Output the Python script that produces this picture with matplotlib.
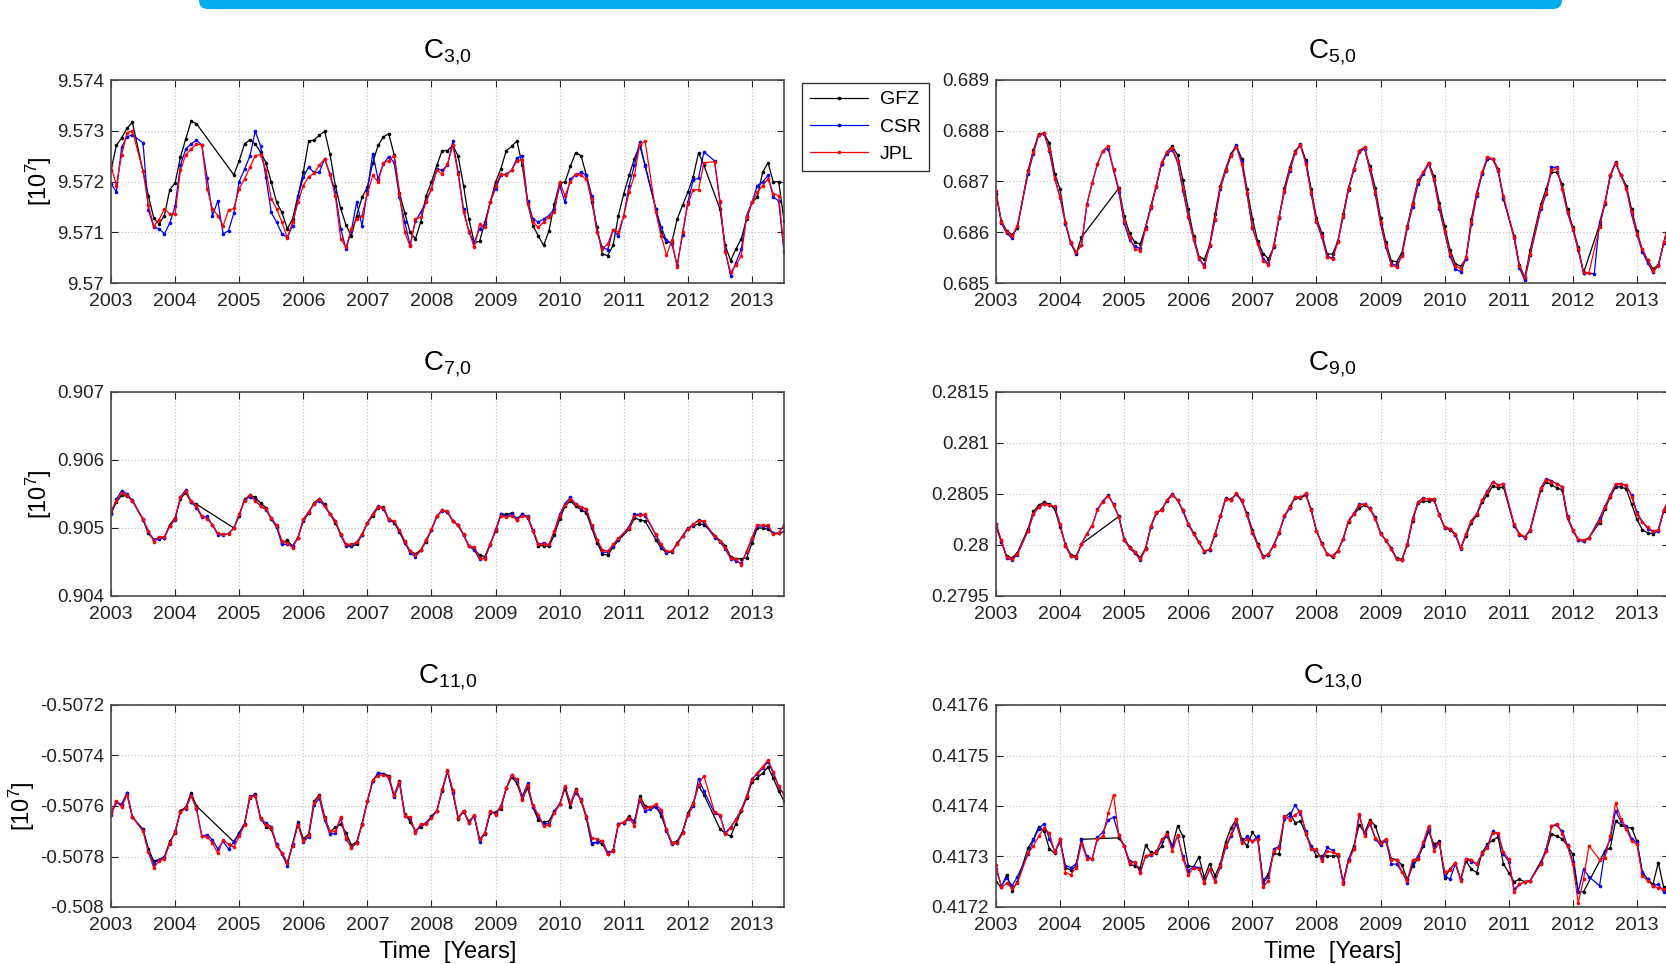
import numpy as np
import matplotlib
matplotlib.use("Agg")
import matplotlib.pyplot as plt
from matplotlib.patches import FancyBboxPatch
from matplotlib.ticker import FuncFormatter

plt.rcParams["font.family"] = ["Liberation Sans", "DejaVu Sans"]
plt.rcParams["mathtext.fontset"] = "custom"
plt.rcParams["mathtext.rm"] = "Liberation Sans"
plt.rcParams["mathtext.it"] = "Liberation Sans:italic"

nan = np.nan

# monthly values, Jan 2003 .. Jul 2013 (one row per year)
# -----------------------
# C3,0
# -----------------------
c30_gfz = [
    9.57222, 9.57271, 9.57286, 9.57305, 9.57317, nan, 9.57220, 9.57172, 9.57128, 9.57116, 9.57133, 9.57184,
    9.57197, 9.57248, 9.57284, 9.57319, 9.57314, nan, nan, nan, nan, nan, nan, 9.57213,
    9.57241, 9.57274, 9.57282, 9.57274, 9.57258, 9.57237, 9.57199, 9.57159, 9.57139, 9.57107, 9.57126, 9.57172,
    9.57218, 9.57279, 9.57282, 9.57291, 9.57299, 9.57254, 9.57192, 9.57147, 9.57114, 9.57093, 9.57133, 9.57169,
    9.57189, 9.57237, 9.57271, 9.57288, 9.57294, 9.57253, 9.57178, 9.57138, 9.57100, 9.57087, 9.57121, 9.57172,
    9.57199, 9.57232, 9.57261, 9.57261, 9.57271, 9.57250, 9.57192, 9.57126, 9.57080, 9.57082, 9.57120, 9.57159,
    9.57199, 9.57225, 9.57261, 9.57269, 9.57280, 9.57232, 9.57159, 9.57113, 9.57093, 9.57074, 9.57103, 9.57156,
    9.57197, 9.57199, 9.57230, 9.57257, 9.57251, 9.57212, 9.57159, 9.57110, 9.57057, 9.57054, 9.57074, 9.57133,
    9.57176, 9.57212, 9.57245, 9.57271, 9.57232, nan, 9.57146, 9.57100, 9.57080, 9.57080, 9.57126, 9.57153,
    9.57179, 9.57209, 9.57257, 9.57232, nan, nan, 9.57146, 9.57074, 9.57044, 9.57067, 9.57087, 9.57126,
    9.57159, 9.57169, 9.57218, 9.57237, 9.57199, 9.57200, 9.57123,
]
c30_csr = [
    9.57195, 9.57180, 9.57268, 9.57288, 9.57292, nan, 9.57276, 9.57144, 9.57110, 9.57107, 9.57097, 9.57118,
    9.57151, 9.57232, 9.57264, 9.57274, 9.57281, 9.57272, 9.57207, 9.57133, 9.57162, 9.57097, 9.57103, 9.57138,
    9.57200, 9.57224, 9.57250, 9.57299, 9.57270, 9.57209, 9.57139, 9.57120, 9.57097, 9.57090, 9.57113, 9.57169,
    9.57209, 9.57228, 9.57218, 9.57218, 9.57245, 9.57215, 9.57179, 9.57107, 9.57067, 9.57103, 9.57159, 9.57113,
    9.57182, 9.57255, 9.57205, 9.57235, 9.57249, 9.57238, 9.57169, 9.57120, 9.57074, 9.57123, 9.57139, 9.57162,
    9.57186, 9.57225, 9.57222, 9.57232, 9.57279, 9.57218, 9.57146, 9.57100, 9.57080, 9.57107, 9.57116, 9.57160,
    9.57186, 9.57212, 9.57215, 9.57222, 9.57246, 9.57251, 9.57162, 9.57126, 9.57120, 9.57126, 9.57133, 9.57146,
    9.57192, 9.57159, 9.57205, 9.57213, 9.57218, 9.57213, 9.57172, 9.57101, 9.57070, 9.57066, 9.57105, 9.57092,
    9.57133, 9.57192, 9.57232, 9.57278, 9.57230, nan, 9.57146, 9.57110, 9.57084, 9.57077, 9.57036, 9.57095,
    9.57160, 9.57202, 9.57207, 9.57258, nan, 9.57241, 9.57160, 9.57064, 9.57014, 9.57040, 9.57067, 9.57133,
    9.57159, 9.57192, 9.57199, 9.57212, 9.57169, 9.57162, 9.57061,
]
c30_jpl = [
    9.57232, 9.57192, 9.57253, 9.57296, 9.57300, nan, 9.57220, 9.57153, 9.57112, 9.57125, 9.57146, 9.57136,
    9.57136, 9.57222, 9.57253, 9.57264, 9.57274, 9.57272, 9.57186, 9.57146, 9.57133, 9.57113, 9.57143, 9.57147,
    9.57186, 9.57205, 9.57228, 9.57251, 9.57253, 9.57222, 9.57166, 9.57146, 9.57120, 9.57089, 9.57120, 9.57159,
    9.57192, 9.57209, 9.57216, 9.57232, 9.57245, 9.57212, 9.57172, 9.57087, 9.57070, 9.57107, 9.57126, 9.57133,
    9.57176, 9.57212, 9.57199, 9.57237, 9.57241, 9.57251, 9.57176, 9.57100, 9.57072, 9.57126, 9.57130, 9.57159,
    9.57186, 9.57222, 9.57215, 9.57235, 9.57271, 9.57215, 9.57139, 9.57103, 9.57070, 9.57116, 9.57110, 9.57159,
    9.57192, 9.57215, 9.57213, 9.57222, 9.57241, 9.57243, 9.57156, 9.57120, 9.57110, 9.57120, 9.57130, 9.57139,
    9.57199, 9.57172, 9.57199, 9.57215, 9.57212, 9.57205, 9.57166, 9.57100, 9.57067, 9.57077, 9.57105, 9.57100,
    9.57133, 9.57179, 9.57212, 9.57274, 9.57279, nan, 9.57139, 9.57093, 9.57055, 9.57084, 9.57031, 9.57100,
    9.57156, 9.57184, 9.57184, 9.57237, nan, 9.57239, 9.57162, 9.57061, 9.57021, 9.57035, 9.57054, 9.57130,
    9.57159, 9.57179, 9.57192, 9.57205, 9.57176, 9.57172, 9.57066,
]

# -----------------------
# C5,0
# -----------------------
c50_gfz = [
    0.68675, 0.68622, 0.68603, 0.68595, 0.68608, nan, 0.68722, 0.68762, 0.68794, 0.68795, 0.68775, 0.68715,
    0.68685, 0.68618, 0.68578, 0.68557, 0.68590, nan, nan, nan, nan, nan, nan, 0.68687,
    0.68632, 0.68598, 0.68580, 0.68577, 0.68610, 0.68652, 0.68692, 0.68735, 0.68758, 0.68770, 0.68752, 0.68702,
    0.68645, 0.68592, 0.68552, 0.68547, 0.68575, 0.68636, 0.68692, 0.68725, 0.68755, 0.68770, 0.68745, 0.68685,
    0.68627, 0.68582, 0.68558, 0.68548, 0.68570, 0.68628, 0.68688, 0.68728, 0.68760, 0.68772, 0.68742, 0.68685,
    0.68628, 0.68598, 0.68557, 0.68557, 0.68582, 0.68636, 0.68688, 0.68725, 0.68760, 0.68765, 0.68730, 0.68688,
    0.68628, 0.68580, 0.68544, 0.68542, 0.68560, 0.68613, 0.68658, 0.68702, 0.68718, 0.68737, 0.68710, 0.68658,
    0.68612, 0.68565, 0.68538, 0.68533, 0.68548, 0.68626, 0.68678, 0.68717, 0.68745, 0.68745, 0.68725, 0.68665,
    nan, 0.68593, 0.68535, 0.68510, 0.68565, nan, 0.68655, 0.68685, 0.68718, 0.68718, 0.68695, 0.68645,
    0.68610, 0.68570, 0.68520, nan, nan, 0.68615, 0.68655, 0.68712, 0.68738, 0.68712, 0.68692, 0.68645,
    0.68602, 0.68565, 0.68545, 0.68528, 0.68535, 0.68578, 0.68620,
]
c50_csr = [
    0.68678, 0.68618, 0.68598, 0.68588, 0.68612, nan, 0.68715, 0.68755, 0.68792, 0.68794, 0.68760, 0.68705,
    0.68668, 0.68617, 0.68578, 0.68560, 0.68575, 0.68655, 0.68697, 0.68735, 0.68760, 0.68765, 0.68722, 0.68680,
    0.68618, 0.68585, 0.68572, 0.68568, 0.68610, 0.68648, 0.68690, 0.68735, 0.68755, 0.68762, 0.68738, 0.68682,
    0.68630, 0.68585, 0.68548, 0.68535, 0.68572, 0.68625, 0.68686, 0.68720, 0.68752, 0.68772, 0.68740, 0.68675,
    0.68608, 0.68578, 0.68548, 0.68538, 0.68572, 0.68630, 0.68680, 0.68720, 0.68756, 0.68774, 0.68738, 0.68676,
    0.68620, 0.68590, 0.68552, 0.68550, 0.68582, 0.68630, 0.68684, 0.68722, 0.68758, 0.68765, 0.68722, 0.68675,
    0.68617, 0.68570, 0.68538, 0.68535, 0.68555, 0.68608, 0.68650, 0.68695, 0.68715, 0.68735, 0.68702, 0.68646,
    0.68600, 0.68553, 0.68528, 0.68522, 0.68548, 0.68616, 0.68672, 0.68714, 0.68745, 0.68744, 0.68720, 0.68668,
    nan, 0.68588, 0.68530, 0.68505, 0.68555, nan, 0.68645, 0.68675, 0.68728, 0.68728, 0.68685, 0.68638,
    0.68605, 0.68565, 0.68520, nan, 0.68518, 0.68620, 0.68658, 0.68710, 0.68735, 0.68712, 0.68688, 0.68635,
    0.68595, 0.68562, 0.68540, 0.68521, 0.68535, 0.68578, 0.68618,
]
c50_jpl = [
    0.68682, 0.68620, 0.68600, 0.68592, 0.68613, nan, 0.68720, 0.68758, 0.68792, 0.68796, 0.68763, 0.68707,
    0.68669, 0.68620, 0.68580, 0.68561, 0.68574, 0.68653, 0.68697, 0.68735, 0.68761, 0.68770, 0.68725, 0.68686,
    0.68623, 0.68590, 0.68567, 0.68564, 0.68607, 0.68649, 0.68692, 0.68738, 0.68758, 0.68766, 0.68741, 0.68686,
    0.68633, 0.68587, 0.68549, 0.68531, 0.68574, 0.68626, 0.68689, 0.68722, 0.68751, 0.68768, 0.68735, 0.68678,
    0.68610, 0.68577, 0.68544, 0.68536, 0.68574, 0.68630, 0.68682, 0.68724, 0.68758, 0.68771, 0.68735, 0.68679,
    0.68623, 0.68593, 0.68551, 0.68547, 0.68580, 0.68633, 0.68686, 0.68725, 0.68761, 0.68768, 0.68725, 0.68679,
    0.68620, 0.68574, 0.68536, 0.68531, 0.68554, 0.68610, 0.68656, 0.68700, 0.68718, 0.68737, 0.68704, 0.68649,
    0.68603, 0.68557, 0.68534, 0.68528, 0.68551, 0.68620, 0.68676, 0.68718, 0.68748, 0.68745, 0.68722, 0.68672,
    nan, 0.68590, 0.68534, 0.68511, 0.68557, nan, 0.68649, 0.68678, 0.68722, 0.68726, 0.68686, 0.68640,
    0.68607, 0.68567, 0.68521, 0.68520, nan, 0.68610, 0.68660, 0.68712, 0.68737, 0.68712, 0.68686, 0.68639,
    0.68597, 0.68567, 0.68545, 0.68524, 0.68534, 0.68580, 0.68620,
]

# -----------------------
# C7,0
# -----------------------
c70_gfz = [
    0.90522, 0.90538, 0.90548, 0.90547, 0.90540, nan, 0.90512, 0.90492, 0.90483, 0.90485, 0.90486, 0.90505,
    0.90515, 0.90543, 0.90552, 0.90538, 0.90535, nan, nan, nan, nan, nan, nan, 0.90500,
    0.90518, 0.90542, 0.90548, 0.90545, 0.90537, 0.90530, 0.90513, 0.90502, 0.90478, 0.90482, 0.90473, 0.90486,
    0.90510, 0.90522, 0.90537, 0.90543, 0.90535, 0.90520, 0.90508, 0.90490, 0.90474, 0.90473, 0.90476, 0.90490,
    0.90507, 0.90518, 0.90530, 0.90531, 0.90512, 0.90508, 0.90494, 0.90478, 0.90466, 0.90462, 0.90468, 0.90480,
    0.90497, 0.90517, 0.90526, 0.90523, 0.90510, 0.90504, 0.90490, 0.90474, 0.90469, 0.90460, 0.90458, 0.90477,
    0.90495, 0.90520, 0.90520, 0.90522, 0.90512, 0.90520, 0.90515, 0.90495, 0.90474, 0.90474, 0.90473, 0.90490,
    0.90513, 0.90532, 0.90540, 0.90532, 0.90527, 0.90522, 0.90500, 0.90478, 0.90462, 0.90460, 0.90472, 0.90482,
    nan, 0.90498, 0.90515, 0.90512, 0.90510, nan, 0.90483, 0.90470, 0.90464, 0.90465, 0.90478, 0.90488,
    0.90500, 0.90503, 0.90506, 0.90505, nan, nan, nan, 0.90474, 0.90458, 0.90455, 0.90455, 0.90456,
    0.90478, 0.90500, 0.90500, 0.90498, 0.90492, 0.90492, 0.90495,
]
c70_csr = [
    0.90520, 0.90542, 0.90555, 0.90550, 0.90541, nan, 0.90513, 0.90494, 0.90483, 0.90484, 0.90486, 0.90503,
    0.90512, 0.90546, 0.90556, 0.90538, 0.90530, 0.90516, 0.90517, 0.90504, 0.90490, 0.90490, 0.90492, 0.90500,
    0.90520, 0.90541, 0.90546, 0.90541, 0.90532, 0.90527, 0.90514, 0.90502, 0.90476, 0.90476, 0.90474, 0.90486,
    0.90512, 0.90524, 0.90535, 0.90540, 0.90532, 0.90520, 0.90511, 0.90490, 0.90475, 0.90474, 0.90479, 0.90490,
    0.90508, 0.90521, 0.90532, 0.90528, 0.90512, 0.90509, 0.90496, 0.90480, 0.90463, 0.90458, 0.90467, 0.90483,
    0.90497, 0.90518, 0.90525, 0.90524, 0.90510, 0.90504, 0.90490, 0.90473, 0.90468, 0.90454, 0.90456, 0.90475,
    0.90498, 0.90520, 0.90517, 0.90520, 0.90514, 0.90520, 0.90517, 0.90497, 0.90476, 0.90478, 0.90475, 0.90495,
    0.90520, 0.90536, 0.90545, 0.90535, 0.90530, 0.90527, 0.90503, 0.90482, 0.90465, 0.90464, 0.90474, 0.90484,
    nan, 0.90502, 0.90520, 0.90520, 0.90518, nan, 0.90490, 0.90473, 0.90463, 0.90466, 0.90476, 0.90488,
    0.90499, 0.90505, 0.90512, 0.90508, nan, 0.90486, 0.90480, 0.90469, 0.90455, 0.90452, 0.90448, 0.90465,
    0.90484, 0.90503, 0.90503, 0.90502, 0.90492, 0.90493, 0.90504,
]
c70_jpl = [
    0.90525, 0.90540, 0.90551, 0.90548, 0.90540, nan, 0.90513, 0.90496, 0.90480, 0.90487, 0.90487, 0.90503,
    0.90513, 0.90545, 0.90554, 0.90540, 0.90533, 0.90518, 0.90513, 0.90505, 0.90492, 0.90491, 0.90491, 0.90500,
    0.90520, 0.90540, 0.90549, 0.90540, 0.90533, 0.90528, 0.90515, 0.90504, 0.90481, 0.90478, 0.90471, 0.90486,
    0.90513, 0.90523, 0.90536, 0.90542, 0.90533, 0.90521, 0.90510, 0.90491, 0.90476, 0.90476, 0.90479, 0.90491,
    0.90508, 0.90520, 0.90531, 0.90530, 0.90513, 0.90510, 0.90497, 0.90481, 0.90466, 0.90460, 0.90467, 0.90482,
    0.90498, 0.90518, 0.90526, 0.90525, 0.90510, 0.90505, 0.90491, 0.90473, 0.90472, 0.90456, 0.90455, 0.90476,
    0.90497, 0.90518, 0.90516, 0.90518, 0.90512, 0.90518, 0.90516, 0.90496, 0.90477, 0.90476, 0.90476, 0.90496,
    0.90518, 0.90534, 0.90542, 0.90536, 0.90531, 0.90528, 0.90505, 0.90483, 0.90468, 0.90466, 0.90476, 0.90485,
    nan, 0.90500, 0.90518, 0.90519, 0.90520, nan, 0.90491, 0.90476, 0.90466, 0.90466, 0.90476, 0.90488,
    0.90498, 0.90506, 0.90511, 0.90510, nan, 0.90488, 0.90481, 0.90471, 0.90456, 0.90454, 0.90446, 0.90466,
    0.90486, 0.90505, 0.90504, 0.90504, 0.90491, 0.90492, 0.90504,
]

# -----------------------
# C9,0
# -----------------------
c90_gfz = [
    0.280180, 0.280030, 0.279890, 0.279875, 0.279925, nan, 0.280160, 0.280330, 0.280390, 0.280420, 0.280400, 0.280350,
    0.280180, 0.280005, 0.279905, 0.279890, 0.280010, nan, nan, nan, nan, nan, nan, 0.280280,
    0.280060, 0.279985, 0.279935, 0.279875, 0.279970, 0.280180, 0.280310, 0.280350, 0.280430, 0.280490, 0.280440, 0.280340,
    0.280210, 0.280120, 0.280030, 0.279935, 0.279955, 0.280100, 0.280280, 0.280450, 0.280450, 0.280500, 0.280430, 0.280310,
    0.280150, 0.280010, 0.279890, 0.279905, 0.280000, 0.280120, 0.280280, 0.280380, 0.280460, 0.280460, 0.280490, 0.280350,
    0.280140, 0.280020, 0.279910, 0.279880, 0.279940, 0.280060, 0.280230, 0.280300, 0.280360, 0.280390, 0.280360, 0.280270,
    0.280120, 0.280040, 0.279970, 0.279870, 0.279860, 0.280000, 0.280240, 0.280410, 0.280430, 0.280430, 0.280440, 0.280300,
    0.280170, 0.280150, 0.280100, 0.279970, 0.280090, 0.280220, 0.280290, 0.280420, 0.280490, 0.280580, 0.280560, 0.280570,
    nan, 0.280190, 0.280110, 0.280080, 0.280140, nan, 0.280540, 0.280620, 0.280590, 0.280560, 0.280540, 0.280260,
    0.280140, 0.280050, 0.280040, 0.280070, nan, 0.280220, 0.280350, 0.280470, 0.280570, 0.280570, 0.280550, 0.280400,
    0.280250, 0.280150, 0.280120, 0.280110, 0.280140, 0.280330, 0.280430,
]
c90_csr = [
    0.280210, 0.280040, 0.279875, 0.279850, 0.279905, nan, 0.280140, 0.280300, 0.280370, 0.280400, 0.280390, 0.280370,
    0.280200, 0.279995, 0.279890, 0.279875, 0.280010, 0.280110, 0.280190, 0.280350, 0.280430, 0.280490, 0.280400, 0.280280,
    0.280050, 0.279970, 0.279920, 0.279855, 0.279960, 0.280180, 0.280320, 0.280340, 0.280440, 0.280500, 0.280440, 0.280330,
    0.280200, 0.280110, 0.280025, 0.279935, 0.279955, 0.280110, 0.280280, 0.280460, 0.280440, 0.280500, 0.280440, 0.280290,
    0.280120, 0.279995, 0.279885, 0.279905, 0.280000, 0.280120, 0.280280, 0.280360, 0.280470, 0.280470, 0.280500, 0.280340,
    0.280140, 0.280010, 0.279910, 0.279890, 0.279945, 0.280060, 0.280240, 0.280310, 0.280400, 0.280400, 0.280360, 0.280260,
    0.280110, 0.280050, 0.279960, 0.279860, 0.279850, 0.280010, 0.280260, 0.280420, 0.280460, 0.280450, 0.280450, 0.280290,
    0.280170, 0.280160, 0.280100, 0.279960, 0.280110, 0.280240, 0.280300, 0.280440, 0.280530, 0.280620, 0.280590, 0.280600,
    nan, 0.280200, 0.280100, 0.280070, 0.280150, nan, 0.280560, 0.280650, 0.280630, 0.280600, 0.280570, 0.280280,
    0.280150, 0.280050, 0.280035, 0.280070, nan, 0.280260, 0.280380, 0.280490, 0.280590, 0.280600, 0.280580, 0.280490,
    0.280320, 0.280230, 0.280160, 0.280130, 0.280140, 0.280340, 0.280450,
]
c90_jpl = [
    0.280205, 0.280045, 0.279880, 0.279860, 0.279910, nan, 0.280140, 0.280305, 0.280370, 0.280405, 0.280390, 0.280380,
    0.280205, 0.279995, 0.279895, 0.279880, 0.280010, 0.280110, 0.280190, 0.280345, 0.280420, 0.280485, 0.280390, 0.280275,
    0.280045, 0.279975, 0.279930, 0.279860, 0.279960, 0.280190, 0.280320, 0.280340, 0.280440, 0.280495, 0.280440, 0.280340,
    0.280205, 0.280110, 0.280025, 0.279940, 0.279960, 0.280110, 0.280280, 0.280455, 0.280440, 0.280505, 0.280440, 0.280290,
    0.280125, 0.279995, 0.279880, 0.279910, 0.279995, 0.280125, 0.280290, 0.280370, 0.280470, 0.280470, 0.280505, 0.280340,
    0.280140, 0.280010, 0.279910, 0.279895, 0.279945, 0.280060, 0.280240, 0.280305, 0.280390, 0.280405, 0.280355, 0.280255,
    0.280110, 0.280045, 0.279960, 0.279860, 0.279850, 0.280010, 0.280255, 0.280420, 0.280455, 0.280455, 0.280455, 0.280290,
    0.280175, 0.280160, 0.280110, 0.279970, 0.280110, 0.280240, 0.280305, 0.280440, 0.280520, 0.280620, 0.280585, 0.280595,
    nan, 0.280205, 0.280110, 0.280075, 0.280150, nan, 0.280555, 0.280640, 0.280620, 0.280600, 0.280570, 0.280275,
    0.280150, 0.280060, 0.280045, 0.280070, nan, 0.280240, 0.280370, 0.280485, 0.280600, 0.280600, 0.280585, 0.280475,
    0.280300, 0.280225, 0.280175, 0.280135, 0.280150, 0.280345, 0.280450,
]

# -----------------------
# C11,0
# -----------------------
c110_gfz = [
    -0.507624, -0.507585, -0.507598, -0.507550, -0.507645, nan, -0.507692, -0.507770, -0.507818, -0.507812, -0.507802, -0.507740,
    -0.507708, -0.507618, -0.507605, -0.507548, -0.507600, nan, nan, nan, nan, nan, nan, -0.507742,
    -0.507705, -0.507670, -0.507568, -0.507552, -0.507648, -0.507682, -0.507692, -0.507755, -0.507785, -0.507826, -0.507752, -0.507665,
    -0.507730, -0.507712, -0.507582, -0.507555, -0.507642, -0.507702, -0.507685, -0.507672, -0.507705, -0.507755, -0.507742, -0.507670,
    -0.507580, -0.507502, -0.507470, -0.507472, -0.507480, -0.507560, -0.507500, -0.507632, -0.507662, -0.507700, -0.507682, -0.507668,
    -0.507640, -0.507620, -0.507540, -0.507462, -0.507545, -0.507650, -0.507622, -0.507660, -0.507640, -0.507730, -0.507712, -0.507626,
    -0.507624, -0.507610, -0.507530, -0.507485, -0.507510, -0.507572, -0.507528, -0.507605, -0.507655, -0.507665, -0.507660, -0.507620,
    -0.507592, -0.507530, -0.507605, -0.507532, -0.507580, -0.507648, -0.507752, -0.507742, -0.507750, -0.507790, -0.507775, -0.507670,
    -0.507666, -0.507640, -0.507665, -0.507562, -0.507600, -0.507605, -0.507602, -0.507638, -0.507695, -0.507745, -0.507740, -0.507702,
    -0.507628, -0.507588, -0.507520, -0.507555, nan, nan, -0.507690, -0.507708, -0.507720, -0.507670, -0.507620, -0.507570,
    -0.507505, -0.507488, -0.507470, -0.507446, -0.507490, -0.507540, -0.507580,
]
c110_csr = [
    -0.507636, -0.507586, -0.507592, -0.507548, -0.507642, nan, -0.507695, -0.507778, -0.507828, -0.507812, -0.507800, -0.507750,
    -0.507700, -0.507622, -0.507610, -0.507558, -0.507610, -0.507720, -0.507714, -0.507734, -0.507770, -0.507740, -0.507770, -0.507742,
    -0.507712, -0.507670, -0.507562, -0.507558, -0.507650, -0.507668, -0.507682, -0.507752, -0.507790, -0.507836, -0.507750, -0.507670,
    -0.507742, -0.507722, -0.507596, -0.507570, -0.507656, -0.507712, -0.507708, -0.507648, -0.507730, -0.507762, -0.507748, -0.507672,
    -0.507582, -0.507500, -0.507470, -0.507472, -0.507490, -0.507566, -0.507508, -0.507638, -0.507650, -0.507700, -0.507676, -0.507666,
    -0.507645, -0.507618, -0.507536, -0.507462, -0.507550, -0.507648, -0.507618, -0.507668, -0.507640, -0.507742, -0.507706, -0.507622,
    -0.507630, -0.507600, -0.507530, -0.507478, -0.507500, -0.507562, -0.507510, -0.507602, -0.507642, -0.507672, -0.507670, -0.507620,
    -0.507594, -0.507526, -0.507590, -0.507548, -0.507574, -0.507642, -0.507746, -0.507744, -0.507738, -0.507784, -0.507778, -0.507670,
    -0.507668, -0.507650, -0.507660, -0.507578, -0.507620, -0.507612, -0.507604, -0.507624, -0.507700, -0.507752, -0.507746, -0.507702,
    -0.507636, -0.507600, -0.507492, -0.507540, nan, -0.507628, -0.507638, -0.507706, -0.507684, -0.507652, -0.507614, -0.507562,
    -0.507492, -0.507474, -0.507450, -0.507424, -0.507470, -0.507524, -0.507554,
]
c110_jpl = [
    -0.507628, -0.507582, -0.507604, -0.507556, -0.507644, nan, -0.507700, -0.507784, -0.507844, -0.507818, -0.507808, -0.507748,
    -0.507704, -0.507624, -0.507608, -0.507560, -0.507608, -0.507720, -0.507722, -0.507746, -0.507788, -0.507734, -0.507752, -0.507762,
    -0.507720, -0.507674, -0.507564, -0.507560, -0.507648, -0.507674, -0.507686, -0.507758, -0.507788, -0.507824, -0.507758, -0.507674,
    -0.507740, -0.507716, -0.507588, -0.507562, -0.507648, -0.507700, -0.507700, -0.507644, -0.507726, -0.507766, -0.507746, -0.507674,
    -0.507582, -0.507496, -0.507480, -0.507476, -0.507486, -0.507556, -0.507506, -0.507638, -0.507644, -0.507706, -0.507670, -0.507670,
    -0.507648, -0.507620, -0.507534, -0.507458, -0.507536, -0.507648, -0.507618, -0.507666, -0.507634, -0.507732, -0.507706, -0.507620,
    -0.507634, -0.507602, -0.507530, -0.507476, -0.507494, -0.507576, -0.507516, -0.507598, -0.507634, -0.507680, -0.507674, -0.507628,
    -0.507594, -0.507520, -0.507588, -0.507538, -0.507576, -0.507640, -0.507726, -0.507730, -0.507740, -0.507792, -0.507778, -0.507674,
    -0.507664, -0.507648, -0.507678, -0.507572, -0.507608, -0.507604, -0.507594, -0.507614, -0.507692, -0.507746, -0.507748, -0.507708,
    -0.507634, -0.507594, -0.507516, -0.507480, nan, -0.507624, -0.507634, -0.507712, -0.507686, -0.507654, -0.507614, -0.507562,
    -0.507496, -0.507468, -0.507444, -0.507418, -0.507464, -0.507522, -0.507556,
]

# -----------------------
# C13,0
# -----------------------
c130_gfz = [
    0.417250, 0.417239, 0.417264, 0.417232, 0.417250, nan, 0.417317, 0.417334, 0.417359, 0.417350, 0.417315, 0.417306,
    0.417334, 0.417278, 0.417273, 0.417281, 0.417334, nan, nan, nan, nan, nan, nan, 0.417337,
    0.417321, 0.417285, 0.417281, 0.417278, 0.417322, 0.417308, 0.417306, 0.417321, 0.417348, 0.417320, 0.417361, 0.417340,
    0.417281, 0.417280, 0.417299, 0.417258, 0.417286, 0.417262, 0.417285, 0.417329, 0.417357, 0.417374, 0.417334, 0.417321,
    0.417348, 0.417334, 0.417252, 0.417265, 0.417306, 0.417304, 0.417378, 0.417386, 0.417367, 0.417370, 0.417345, 0.417321,
    0.417301, 0.417301, 0.417301, 0.417301, 0.417301, 0.417249, 0.417294, 0.417321, 0.417363, 0.417347, 0.417373, 0.417361,
    0.417329, 0.417330, 0.417296, 0.417294, 0.417283, 0.417255, 0.417281, 0.417296, 0.417321, 0.417350, 0.417324, 0.417330,
    0.417258, 0.417275, 0.417288, 0.417255, 0.417291, 0.417275, 0.417268, 0.417308, 0.417324, 0.417332, 0.417339, 0.417285,
    0.417268, 0.417250, 0.417255, 0.417250, 0.417252, nan, 0.417290, 0.417310, 0.417345, 0.417340, 0.417335, 0.417321,
    0.417304, 0.417230, 0.417230, nan, nan, nan, 0.417311, 0.417317, 0.417370, 0.417363, 0.417357, 0.417357,
    0.417330, 0.417268, 0.417255, 0.417245, 0.417288, 0.417239, 0.417235,
]
c130_csr = [
    0.417275, 0.417242, 0.417258, 0.417242, 0.417260, nan, 0.417305, 0.417332, 0.417355, 0.417365, 0.417335, 0.417310,
    0.417328, 0.417282, 0.417278, 0.417285, 0.417332, 0.417300, 0.417295, 0.417338, 0.417348, 0.417372, 0.417378, 0.417342,
    0.417320, 0.417292, 0.417288, 0.417270, 0.417300, 0.417302, 0.417310, 0.417330, 0.417340, 0.417320, 0.417340, 0.417300,
    0.417272, 0.417280, 0.417278, 0.417248, 0.417275, 0.417252, 0.417280, 0.417318, 0.417340, 0.417365, 0.417328, 0.417340,
    0.417330, 0.417340, 0.417248, 0.417260, 0.417315, 0.417320, 0.417375, 0.417380, 0.417402, 0.417385, 0.417350, 0.417318,
    0.417312, 0.417295, 0.417318, 0.417312, 0.417302, 0.417250, 0.417295, 0.417315, 0.417382, 0.417345, 0.417365, 0.417335,
    0.417322, 0.417332, 0.417285, 0.417285, 0.417270, 0.417248, 0.417288, 0.417300, 0.417325, 0.417355, 0.417318, 0.417328,
    0.417262, 0.417255, 0.417285, 0.417255, 0.417295, 0.417290, 0.417285, 0.417305, 0.417320, 0.417350, 0.417345, 0.417305,
    0.417290, 0.417235, 0.417245, 0.417250, 0.417252, nan, 0.417288, 0.417315, 0.417360, 0.417362, 0.417350, 0.417322,
    0.417290, 0.417230, 0.417275, 0.417260, nan, 0.417242, 0.417310, 0.417335, 0.417390, 0.417370, 0.417360, 0.417335,
    0.417328, 0.417270, 0.417255, 0.417242, 0.417245, 0.417230, 0.417225,
]
c130_jpl = [
    0.417283, 0.417239, 0.417247, 0.417237, 0.417247, nan, 0.417306, 0.417321, 0.417340, 0.417357, 0.417346, 0.417308,
    0.417335, 0.417268, 0.417264, 0.417278, 0.417326, 0.417296, 0.417296, 0.417334, 0.417340, 0.417386, 0.417422, 0.417342,
    0.417321, 0.417288, 0.417289, 0.417268, 0.417301, 0.417304, 0.417308, 0.417334, 0.417344, 0.417311, 0.417342, 0.417296,
    0.417263, 0.417278, 0.417275, 0.417247, 0.417275, 0.417250, 0.417281, 0.417321, 0.417344, 0.417374, 0.417326, 0.417334,
    0.417330, 0.417334, 0.417239, 0.417252, 0.417311, 0.417317, 0.417380, 0.417373, 0.417383, 0.417390, 0.417347, 0.417314,
    0.417314, 0.417291, 0.417311, 0.417308, 0.417304, 0.417245, 0.417291, 0.417314, 0.417385, 0.417340, 0.417368, 0.417337,
    0.417327, 0.417335, 0.417294, 0.417293, 0.417270, 0.417252, 0.417294, 0.417296, 0.417329, 0.417361, 0.417311, 0.417327,
    0.417270, 0.417273, 0.417288, 0.417252, 0.417296, 0.417294, 0.417285, 0.417306, 0.417317, 0.417347, 0.417347, 0.417309,
    0.417295, 0.417230, 0.417245, 0.417250, 0.417252, nan, 0.417285, 0.417310, 0.417360, 0.417365, 0.417345, 0.417320,
    0.417285, 0.417208, 0.417255, 0.417321, nan, 0.417294, 0.417298, 0.417340, 0.417406, 0.417375, 0.417355, 0.417330,
    0.417324, 0.417262, 0.417252, 0.417242, 0.417238, 0.417235, 0.417230,
]

# axis ticks
year_ticks = list(range(2003, 2014))
c30_yticks = [9.570, 9.571, 9.572, 9.573, 9.574]
c50_yticks = [0.685, 0.686, 0.687, 0.688, 0.689]
c70_yticks = [0.904, 0.905, 0.906, 0.907]
c90_yticks = [0.2795, 0.2800, 0.2805, 0.2810, 0.2815]
c110_yticks = [-0.5080, -0.5078, -0.5076, -0.5074, -0.5072]
c130_yticks = [0.4172, 0.4173, 0.4174, 0.4175, 0.4176]

series_names = ["GFZ", "CSR", "JPL"]
series_colors = ["k", "b", "r"]

W, H = 1666, 964
fig = plt.figure(figsize=(W / 100, H / 100), dpi=100)

# blue banner at the top
fig.patches.append(FancyBboxPatch((1.99, 9.55), 13.63, 0.4,
                                  boxstyle="round,pad=0,rounding_size=0.09",
                                  transform=fig.dpi_scale_trans,
                                  facecolor="#00AEEF", edgecolor="none"))

panels = [
    ("3{,}0", [c30_gfz, c30_csr, c30_jpl], c30_yticks, 0, 0),
    ("5{,}0", [c50_gfz, c50_csr, c50_jpl], c50_yticks, 0, 1),
    ("7{,}0", [c70_gfz, c70_csr, c70_jpl], c70_yticks, 1, 0),
    ("9{,}0", [c90_gfz, c90_csr, c90_jpl], c90_yticks, 1, 1),
    ("11{,}0", [c110_gfz, c110_csr, c110_jpl], c110_yticks, 2, 0),
    ("13{,}0", [c130_gfz, c130_csr, c130_jpl], c130_yticks, 2, 1),
]

col_x = [111, 996]
row_y = [(80, 283), (392, 596), (705, 907)]
ax_w = 673

handles = None
for sub, data, yt, r, c in panels:
    top, bot = row_y[r]
    ax = fig.add_axes([col_x[c] / W, 1 - bot / H, ax_w / W, (bot - top) / H])

    lines = []
    for vals, name, col in zip(data, series_names, series_colors):
        y = np.array(vals, dtype=float)
        t = 2003 + np.arange(len(y)) / 12.0
        ok = ~np.isnan(y)
        ln, = ax.plot(t[ok], y[ok], "-", color=col, lw=0.9, marker="o",
                      ms=2.6, mew=0, label=name)
        lines.append(ln)
    if handles is None:
        handles = lines

    ax.set_xlim(2003, 2013.5)
    ax.set_ylim(yt[0], yt[-1])
    ax.set_xticks(year_ticks)
    ax.set_yticks(yt)
    ax.yaxis.set_major_formatter(FuncFormatter(lambda v, p: "%g" % v))
    ax.tick_params(direction="in", top=True, right=True, length=5, width=0.8,
                   colors="#222222")
    ax.tick_params(axis="x", labelsize=14, pad=7)
    ax.tick_params(axis="y", labelsize=13.5, pad=5)
    ax.grid(True, color="#bdbdbd", linestyle=(0, (1, 2)), linewidth=0.8)
    for s in ax.spines.values():
        s.set_color("#4a4a4a")
        s.set_linewidth(1.2)

    ax.set_title(r"C$_{\mathregular{%s}}$" % sub, fontsize=20, pad=16)
    if c == 0:
        ax.set_ylabel(r"[10$^{\mathregular{7}}$]", fontsize=17, labelpad=2)
    if r == 2:
        ax.set_xlabel("Time  [Years]", fontsize=17, labelpad=5)

fig.legend(handles, series_names, loc="upper left",
           bbox_to_anchor=(802 / W, 1 - 83 / H), fontsize=14,
           frameon=True, fancybox=False, edgecolor="#333333", framealpha=1,
           handlelength=3.0, handletextpad=0.6, borderpad=0.4,
           labelspacing=0.5, borderaxespad=0)

fig.savefig("out.png", dpi=100)
